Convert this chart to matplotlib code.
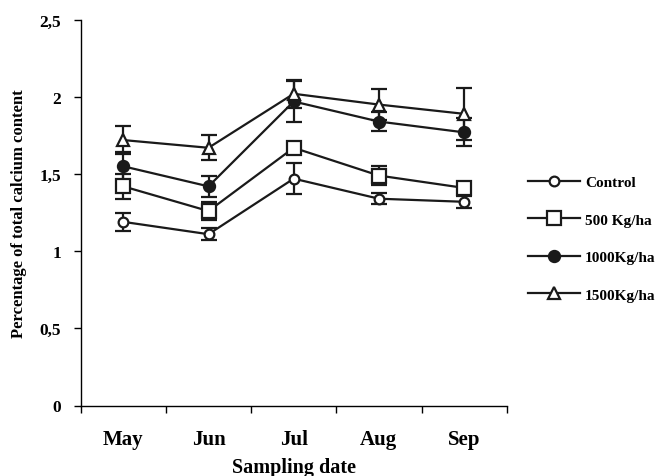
import matplotlib
matplotlib.use("Agg")
import matplotlib.pyplot as plt
from matplotlib.lines import Line2D

months = ["May", "Jun", "Jul", "Aug", "Sep"]
series_names = ["Control", "500 Kg/ha", "1000Kg/ha", "1500Kg/ha"]
control = [1.19, 1.11, 1.47, 1.34, 1.32]
control_err = [0.06, 0.04, 0.10, 0.035, 0.04]
kg500 = [1.42, 1.26, 1.67, 1.49, 1.41]
kg500_err = [0.08, 0.06, 0.04, 0.06, 0.02]
kg1000 = [1.55, 1.42, 1.97, 1.84, 1.77]
kg1000_err = [0.09, 0.07, 0.13, 0.06, 0.09]
kg1500 = [1.72, 1.67, 2.02, 1.95, 1.89]
kg1500_err = [0.09, 0.08, 0.09, 0.10, 0.17]
y_ticks = [0, 0.5, 1, 1.5, 2, 2.5]
y_tick_labels = ["0", "0,5", "1", "1,5", "2", "2,5"]

plt.rcParams["font.family"] = ["Liberation Serif", "DejaVu Serif"]
plt.rcParams["font.weight"] = "bold"

fig = plt.figure(figsize=(6.58, 4.77), dpi=100)
ax = fig.add_axes([80.7 / 658, 1 - 406.5 / 477, 426 / 658, (406.5 - 20.7) / 477])

x = list(range(len(months)))
styles = [
    dict(marker="o", mfc="white", ms=7),
    dict(marker="s", mfc="white", ms=10),
    dict(marker="o", mfc="#1a1a1a", ms=8),
    dict(marker="^", mfc="white", ms=9),
]
values = [control, kg500, kg1000, kg1500]
errors = [control_err, kg500_err, kg1000_err, kg1500_err]
handles = []
for vals, errs, st, name in zip(values, errors, styles, series_names):
    ax.errorbar(x, vals, yerr=errs, color="#1a1a1a", lw=1.6, capsize=6,
                capthick=1.6, elinewidth=1.6, mec="#1a1a1a", mew=1.6, **st,
                zorder=3)
    handles.append(Line2D([], [], color="#1a1a1a", lw=1.6, mec="#1a1a1a",
                          mew=1.6, label=name, **st))

ax.set_xlim(-0.5, 4.5)
ax.set_ylim(0, 2.5)
ax.set_xticks(x)
ax.set_xticklabels(months, fontsize=15, fontweight="bold")
ax.set_xticks([i - 0.5 for i in range(len(months) + 1)], minor=True)
ax.tick_params(axis="x", which="major", length=0, pad=17)
ax.tick_params(axis="x", which="minor", length=5, direction="out", width=1)
ax.set_yticks(y_ticks)
ax.set_yticklabels(y_tick_labels, fontsize=12.5, fontweight="bold")
ax.tick_params(axis="y", length=5, width=1, pad=9)
for s in ["top", "right"]:
    ax.spines[s].set_visible(False)
for s in ["left", "bottom"]:
    ax.spines[s].set_linewidth(1)

ax.set_xlabel("Sampling date", fontsize=14.5, fontweight="bold", labelpad=6)
ax.set_ylabel("Percentage of total calcium content", fontsize=12,
              fontweight="bold")
ax.yaxis.set_label_coords(-0.127, 0.5)

fig.legend(handles=handles, loc="upper left",
           bbox_to_anchor=(514 / 658, 1 - 163 / 477), frameon=False,
           handlelength=3.4, labelspacing=1.55, handletextpad=0.35,
           prop=dict(weight="bold", size=11))

fig.savefig("out.png", dpi=100)
